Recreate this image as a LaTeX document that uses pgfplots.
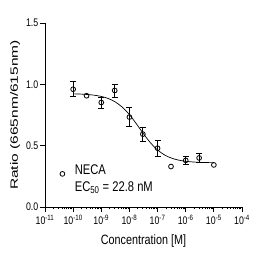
\documentclass[border=0pt]{standalone}
\usepackage{pgfplots}
\pgfplotsset{compat=1.18}
\usepackage{graphicx}
\usepackage{fontspec}
\setmainfont[FakeStretch=0.8]{Liberation Sans}
\newfontfamily\plainsans{Liberation Sans}
\pgfplotstableread{
x y e
1e-10 0.960 0.060
1e-9 0.852 0.045
3e-9 0.950 0.053
1e-8 0.733 0.075
3e-8 0.594 0.057
1e-7 0.479 0.064
1e-6 0.380 0.030
3e-6 0.400 0.035
}\errdata
\pgfplotstableread{
x y
1e-10 0.960
3e-10 0.907
1e-9 0.852
3e-9 0.950
1e-8 0.733
3e-8 0.594
1e-7 0.479
3e-7 0.330
1e-6 0.380
3e-6 0.400
1e-5 0.343
}\ptdata
\pgfplotstableread{
x y
1e-10 0.9225
1.778e-10 0.9206
3.162e-10 0.9173
5.623e-10 0.9114
1e-9 0.9013
1.778e-9 0.8841
3.162e-9 0.8562
5.623e-9 0.8132
1e-8 0.7528
1.778e-8 0.6774
3.162e-8 0.5967
5.623e-8 0.5230
1e-7 0.4649
1.778e-7 0.4242
3.162e-7 0.3980
5.623e-7 0.3820
1e-6 0.3726
1.778e-6 0.3672
3.162e-6 0.3640
5.623e-6 0.3623
1e-5 0.3613
}\fitdata
\begin{document}
\begin{tikzpicture}
\useasboundingbox (0,0) rectangle (265pt,265pt);
\begin{axis}[
  at={(45pt,58pt)}, anchor=south west,
  scale only axis, width=197pt, height=184pt,
  xmode=log, xmin=1e-11, xmax=1e-4, ymin=0, ymax=1.5,
  axis x line*=bottom, axis y line*=left,
  axis line style={line width=0.8pt, black},
  tick align=outside, major tick length=5pt, minor tick length=2.5pt,
  every tick/.style={line width=0.8pt, black},
  xtick={1e-11,1e-10,1e-9,1e-8,1e-7,1e-6,1e-5,1e-4},
  xticklabels={10\textsuperscript{-11},10\textsuperscript{-10},10\textsuperscript{-9},10\textsuperscript{-8},10\textsuperscript{-7},10\textsuperscript{-6},10\textsuperscript{-5},10\textsuperscript{-4}},
  minor xtick={2e-11,3e-11,4e-11,5e-11,6e-11,7e-11,8e-11,9e-11,
    2e-10,3e-10,4e-10,5e-10,6e-10,7e-10,8e-10,9e-10,
    2e-9,3e-9,4e-9,5e-9,6e-9,7e-9,8e-9,9e-9,
    2e-8,3e-8,4e-8,5e-8,6e-8,7e-8,8e-8,9e-8,
    2e-7,3e-7,4e-7,5e-7,6e-7,7e-7,8e-7,9e-7,
    2e-6,3e-6,4e-6,5e-6,6e-6,7e-6,8e-6,9e-6,
    2e-5,3e-5,4e-5,5e-5,6e-5,7e-5,8e-5,9e-5},
  ytick={0,0.5,1,1.5}, yticklabels={0.0,0.5,1.0,1.5},
  xticklabel style={font=\fontsize{11}{12}\selectfont, text=black},
  yticklabel style={font=\fontsize{11}{12}\selectfont, text=black, inner xsep=1.5pt},
  xlabel={Concentration [M]},
  xlabel style={font=\fontsize{13.5}{14}\selectfont, at={(axis description cs:0.5,-0.185)}, anchor=center},
  ylabel={\scalebox{1}[0.68]{\plainsans\fontsize{15.5}{16}\selectfont Ratio (665nm/615nm)}},
  ylabel style={at={(axis description cs:-0.152,0.5)}, anchor=center},
  legend style={draw=none, fill=none, at={(axis description cs:0.06,0.18)}, anchor=west,
    font=\fontsize{14}{16.6}\selectfont, legend cell align=left},
  clip=false
]
\addplot[black, line width=0.7pt, smooth, forget plot] table {\fitdata};
\addplot[draw=none, mark=none, forget plot,
  error bars/.cd, y dir=both, y explicit,
  error bar style={black, line width=0.8pt},
  error mark options={black, line width=0.8pt, mark size=3pt, rotate=90}]
  table[x=x, y=y, y error=e] {\errdata};
\addplot[only marks, mark=o, mark size=2.4pt, mark options={fill=white, draw=black, line width=0.8pt}] table {\ptdata};
\addlegendentry{\hspace*{8pt}\begin{tabular}{@{}l@{}}NECA\\EC\textsubscript{50} = 22.8 nM\end{tabular}}
\end{axis}
\end{tikzpicture}
\end{document}
